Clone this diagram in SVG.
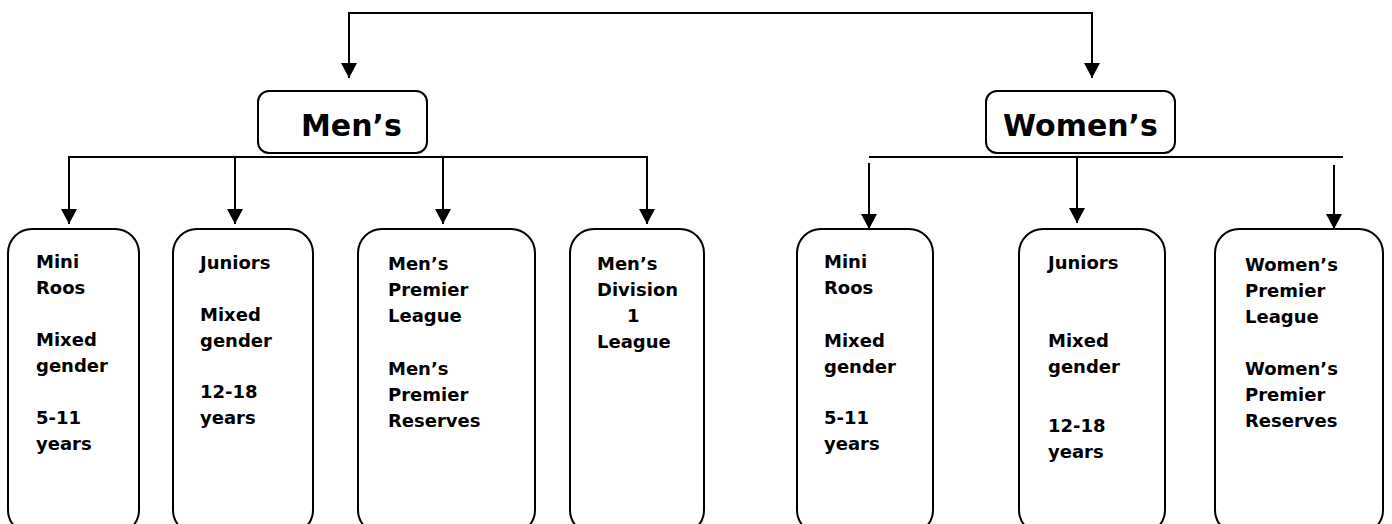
<svg xmlns="http://www.w3.org/2000/svg" width="1392" height="524" viewBox="0 0 1392 524">
<defs>
<marker id="ah" viewBox="0 0 10 10" refX="10" refY="5" markerWidth="15" markerHeight="16" markerUnits="userSpaceOnUse" orient="auto" preserveAspectRatio="none">
<path d="M0,0 L10,5 L0,10 z" fill="#000"/>
</marker>
<style>
.box{fill:#fff;stroke:#000;stroke-width:2}
.con{fill:none;stroke:#000;stroke-width:2}
.arr{fill:none;stroke:#000;stroke-width:2;marker-end:url(#ah)}
.hd{font-family:"DejaVu Sans","Liberation Sans",sans-serif;font-weight:bold;font-size:30px;fill:#000}
.lf{font-family:"DejaVu Sans","Liberation Sans",sans-serif;font-weight:bold;font-size:18px;fill:#000}
</style>
</defs>
<rect width="1392" height="524" fill="#fff"/>
<g id="connectors">
<path class="con" d="M349,13 H1092"/>
<path class="arr" d="M349,12 V78"/>
<path class="arr" d="M1092,12 V78"/>
<path class="con" d="M68,157 H648"/>
<path class="arr" d="M69,156 V224"/>
<path class="arr" d="M235,156 V224"/>
<path class="arr" d="M443,156 V224"/>
<path class="arr" d="M647,156 V224"/>
<path class="con" d="M869,157 H1343"/>
<path class="arr" d="M869,163 V229"/>
<path class="arr" d="M1077,156 V223"/>
<path class="arr" d="M1334,165 V229"/>
</g>
<g id="mens">
<rect class="box" x="258" y="91" width="169" height="62" rx="11"/>
<text class="hd" x="301" y="136">Men’s</text>
</g>
<g id="womens">
<rect class="box" x="986" y="91" width="189" height="62" rx="11"/>
<text class="hd" x="1003" y="136">Women’s</text>
</g>
<g id="men-miniroos">
<rect class="box" x="8" y="229" width="131" height="305" rx="24"/>
<text class="lf" x="36" y="268">Mini</text>
<text class="lf" x="36" y="294">Roos</text>
<text class="lf" x="36" y="346">Mixed</text>
<text class="lf" x="36" y="372">gender</text>
<text class="lf" x="36" y="424">5-11</text>
<text class="lf" x="36" y="450">years</text>
</g>
<g id="men-juniors">
<rect class="box" x="173" y="229" width="140" height="305" rx="24"/>
<text class="lf" x="200" y="269">Juniors</text>
<text class="lf" x="200" y="321">Mixed</text>
<text class="lf" x="200" y="347">gender</text>
<text class="lf" x="200" y="398">12-18</text>
<text class="lf" x="200" y="424">years</text>
</g>
<g id="men-premier">
<rect class="box" x="358" y="229" width="177" height="305" rx="24"/>
<text class="lf" x="388" y="270">Men’s</text>
<text class="lf" x="388" y="296">Premier</text>
<text class="lf" x="388" y="322">League</text>
<text class="lf" x="388" y="375">Men’s</text>
<text class="lf" x="388" y="401">Premier</text>
<text class="lf" x="388" y="427">Reserves</text>
</g>
<g id="men-division1">
<rect class="box" x="570" y="229" width="134" height="305" rx="24"/>
<text class="lf" x="597" y="270">Men’s</text>
<text class="lf" x="597" y="296">Division</text>
<text class="lf" x="627" y="322">1</text>
<text class="lf" x="597" y="348">League</text>
</g>
<g id="women-miniroos">
<rect class="box" x="797" y="229" width="136" height="305" rx="24"/>
<text class="lf" x="824" y="268">Mini</text>
<text class="lf" x="824" y="294">Roos</text>
<text class="lf" x="824" y="347">Mixed</text>
<text class="lf" x="824" y="373">gender</text>
<text class="lf" x="824" y="424">5-11</text>
<text class="lf" x="824" y="450">years</text>
</g>
<g id="women-juniors">
<rect class="box" x="1019" y="229" width="146" height="305" rx="24"/>
<text class="lf" x="1048" y="269">Juniors</text>
<text class="lf" x="1048" y="347">Mixed</text>
<text class="lf" x="1048" y="373">gender</text>
<text class="lf" x="1048" y="432">12-18</text>
<text class="lf" x="1048" y="458">years</text>
</g>
<g id="women-premier">
<rect class="box" x="1215" y="229" width="168" height="305" rx="24"/>
<text class="lf" x="1245" y="271">Women’s</text>
<text class="lf" x="1245" y="297">Premier</text>
<text class="lf" x="1245" y="323">League</text>
<text class="lf" x="1245" y="375">Women’s</text>
<text class="lf" x="1245" y="401">Premier</text>
<text class="lf" x="1245" y="427">Reserves</text>
</g>
</svg>
